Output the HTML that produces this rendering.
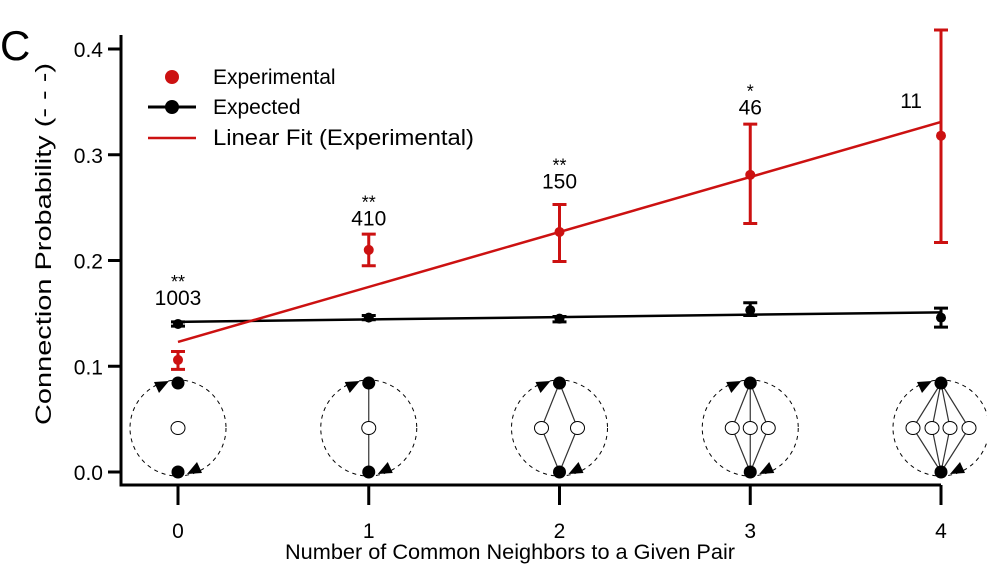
<!DOCTYPE html>
<html><head><meta charset="utf-8"><style>
body{margin:0;background:#fff;}
svg text{font-family:"Liberation Sans",Arial,sans-serif;}
</style></head><body>
<svg id="chart" width="987" height="573" viewBox="0 0 987 573" xmlns="http://www.w3.org/2000/svg">
<text x="0" y="60" font-size="42">C</text>
<g id="axes"></g>
<g id="diagrams"></g>
<g id="marks"></g>
<g id="legend">
<circle cx="172" cy="77" r="7" fill="#cc1111"/>
<text x="213" y="84" font-size="21">Experimental</text>
<line x1="148" y1="107" x2="196" y2="107" stroke="#000" stroke-width="3"/>
<circle cx="172" cy="107" r="7" fill="#000"/>
<text x="213" y="114" font-size="21">Expected</text>
<line x1="148" y1="138" x2="196" y2="138" stroke="#cc1111" stroke-width="2.5"/>
<text x="213" y="145" font-size="22" textLength="261" lengthAdjust="spacingAndGlyphs">Linear Fit (Experimental)</text>
</g>
<text x="0" y="0" font-size="22" text-anchor="middle" textLength="362" lengthAdjust="spacingAndGlyphs" transform="translate(51,244) rotate(-90)">Connection Probability (- - -)</text>
<text x="510" y="559" font-size="21" text-anchor="middle" textLength="450" lengthAdjust="spacingAndGlyphs">Number of Common Neighbors to a Given Pair</text>
</svg>
<script>
const categories=[0,1,2,3,4];
const expVals=[0.106,0.210,0.227,0.281,0.318];
const expLo=[0.097,0.195,0.199,0.235,0.217];
const expHi=[0.114,0.225,0.253,0.329,0.418];
const expectedVals=[0.140,0.146,0.145,0.153,0.146];
const expectedLo=[0.138,0.144,0.142,0.148,0.137];
const expectedHi=[0.142,0.148,0.147,0.160,0.155];
const expectedFit=[0.142,0.151];
const expFit=[0.123,0.331];
const counts=["1003","410","150","46","11"];
const stars=["**","**","**","*",""];
const labelLevels=[0.158,0.233,0.268,0.338,0.344];
const yTicks=[0,0.1,0.2,0.3,0.4];
const yTickLabels=["0.0","0.1","0.2","0.3","0.4"];

const NS="http://www.w3.org/2000/svg";
const X=c=>178+c*190.75;
const Y=v=>472-v*1057.5;
function mk(parent,tag,attrs){const e=document.createElementNS(NS,tag);for(const k in attrs)e.setAttribute(k,attrs[k]);parent.appendChild(e);return e;}
const axes=document.getElementById('axes');
let e=mk(axes,'path',{d:'M121 35 V485 H941',fill:'none',stroke:'#000','stroke-width':3});


yTicks.forEach((t,i)=>{
 let l=mk(axes,'line',{x1:108,x2:121,y1:Y(t),y2:Y(t),stroke:'#000','stroke-width':3});
 
 
 let tx=mk(axes,'text',{x:103,y:Y(t)+8,'font-size':21,'text-anchor':'end'});tx.textContent=yTickLabels[i];
 
 
});
categories.forEach(c=>{
 let l=mk(axes,'line',{x1:X(c),x2:X(c),y1:485,y2:505,stroke:'#000','stroke-width':3});
 
 
 let tx=mk(axes,'text',{x:X(c),y:538,'font-size':21,'text-anchor':'middle'});tx.textContent=c;
 
 
});
const dg=document.getElementById('diagrams');
const offsets=[[0],[0],[-18,18],[-18,0,18],[-28,-9,9,28]];
categories.forEach((c,i)=>{
 const cx=X(c),top=383,bot=472,mid=428;
 const g=mk(dg,'g',{});
 
 
 mk(g,'circle',{cx:cx,cy:mid,r:48,fill:'none',stroke:'#000','stroke-width':1,'stroke-dasharray':'4 4'});
 if(c>0) offsets[i].forEach(o=>{mk(g,'path',{d:`M${cx} ${top} L${cx+o} ${mid} L${cx} ${bot}`,fill:'none',stroke:'#333','stroke-width':1.2});});
 offsets[i].forEach(o=>mk(g,'ellipse',{cx:cx+o,cy:mid,rx:7,ry:6.5,fill:'#fff',stroke:'#000','stroke-width':1}));
 mk(g,'circle',{cx:cx,cy:top,r:6.5,fill:'#000'});
 mk(g,'circle',{cx:cx,cy:bot,r:6.5,fill:'#000'});
 mk(g,'path',{d:`M${cx-9} ${top-2} l-15 1 l5 11 z`,fill:'#000'});
 mk(g,'path',{d:`M${cx+9} ${bot+2} l15 -1 l-5 -11 z`,fill:'#000'});
});
const mg=document.getElementById('marks');
e=mk(mg,'line',{x1:X(0),x2:X(4),y1:Y(expectedFit[0]),y2:Y(expectedFit[1]),stroke:'#000','stroke-width':2.5});


e=mk(mg,'line',{x1:X(0),x2:X(4),y1:Y(expFit[0]),y2:Y(expFit[1]),stroke:'#cc1111','stroke-width':2.5});


function errbar(c,lo,hi,col,name){
 const g=mk(mg,'path',{d:`M${X(c)} ${Y(lo)} V${Y(hi)} M${X(c)-7} ${Y(lo)} h14 M${X(c)-7} ${Y(hi)} h14`,stroke:col,'stroke-width':3,fill:'none'});
 
 
}
categories.forEach((c,i)=>{
 errbar(c,expectedLo[i],expectedHi[i],'#000','expected-errorbar');
 let p=mk(mg,'circle',{cx:X(c),cy:Y(expectedVals[i]),r:5,fill:'#000'});
 
 
 errbar(c,expLo[i],expHi[i],'#cc1111','experimental-errorbar');
 p=mk(mg,'circle',{cx:X(c),cy:Y(expVals[i]),r:5,fill:'#cc1111'});
 
 
 const ly=Y(labelLevels[i]);
 const last=i===categories.length-1;
 let t=mk(mg,'text',{x:last?X(c)-19:X(c),y:ly,'font-size':21,'text-anchor':last?'end':'middle'});t.textContent=counts[i];
 
 
 if(stars[i]){t=mk(mg,'text',{x:X(c),y:ly-17,'font-size':18,'text-anchor':'middle'});t.textContent=stars[i];
 
 }
});
</script>
</body></html>
